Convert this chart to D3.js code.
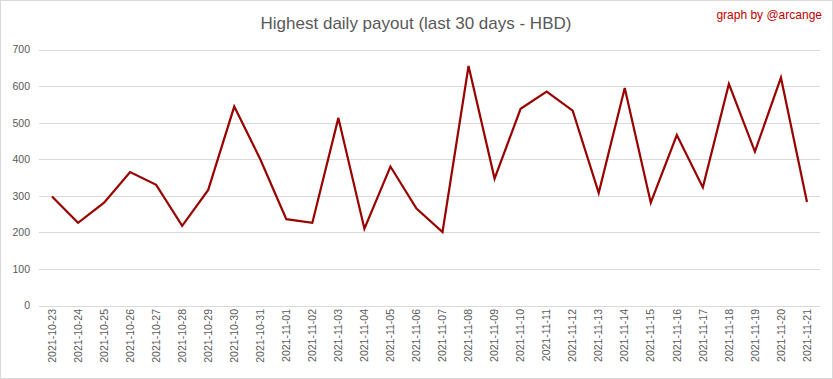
<!DOCTYPE html>
<html><head><meta charset="utf-8">
<script src="https://cdn.jsdelivr.net/npm/d3@7"></script>
<style>body{margin:0;background:#fff}svg{display:block}</style>
</head><body>
<script>
const dates = ["2021-10-23","2021-10-24","2021-10-25","2021-10-26","2021-10-27","2021-10-28","2021-10-29","2021-10-30","2021-10-31","2021-11-01","2021-11-02","2021-11-03","2021-11-04","2021-11-05","2021-11-06","2021-11-07","2021-11-08","2021-11-09","2021-11-10","2021-11-11","2021-11-12","2021-11-13","2021-11-14","2021-11-15","2021-11-16","2021-11-17","2021-11-18","2021-11-19","2021-11-20","2021-11-21"];
const payouts = [298,226,281,365,330,218,316,544,400,236,226,513,210,380,265,201,655,347,538,585,533,308,595,281,466,323,606,421,623,283];
const yTicks = [0,100,200,300,400,500,600,700];
const title = "Highest daily payout (last 30 days - HBD)";
const credit = "graph by @arcange";

const W = 833, H = 379;
const svg = d3.select("body").append("svg").attr("width", W).attr("height", H);
svg.append("rect").attr("x",0.5).attr("y",0.5).attr("width",W-1).attr("height",H-1)
  .attr("fill","#fff").attr("stroke","#d9d9d9");

const x = d3.scaleBand().domain(dates).range([39, 820]);
const y = d3.scaleLinear().domain([0,700]).range([305.5, 49.5]);

const font = "'Liberation Sans', Arial, sans-serif";

svg.append("g").selectAll("line").data(yTicks).join("line")
  .attr("x1",39).attr("x2",820)
  .attr("y1",d=>Math.round(y(d))+0.5).attr("y2",d=>Math.round(y(d))+0.5)
  .attr("stroke","#d9d9d9").attr("stroke-width",1);

const ya = svg.append("g").attr("transform","translate(30,0)")
  .call(d3.axisLeft(y).tickValues(yTicks).tickSize(0).tickPadding(0));
ya.select(".domain").remove();
ya.selectAll("text").attr("font-family",font).attr("font-size",10.5).attr("fill","#595959");

const xa = svg.append("g").attr("transform","translate(0,309)")
  .call(d3.axisBottom(x).tickSize(0).tickPadding(0));
xa.select(".domain").remove();
xa.selectAll("text").attr("font-family",font).attr("font-size",10.5).attr("fill","#595959")
  .attr("transform","rotate(-90)").attr("text-anchor","end").attr("dy","0.35em").attr("y",0).attr("x",0);

const line = d3.line().x((d,i)=>x(dates[i])+x.bandwidth()/2).y(d=>y(d));
svg.append("path").datum(payouts).attr("d",line).attr("fill","none")
  .attr("stroke","#990000").attr("stroke-width",2.2).attr("stroke-linejoin","miter");

svg.append("text").attr("x",416).attr("y",29).attr("text-anchor","middle")
  .attr("font-family",font).attr("font-size",17).attr("fill","#595959").text(title);
svg.append("text").attr("x",822).attr("y",19).attr("text-anchor","end")
  .attr("font-family",font).attr("font-size",12).attr("fill","#c00000").text(credit);
</script>
</body></html>
